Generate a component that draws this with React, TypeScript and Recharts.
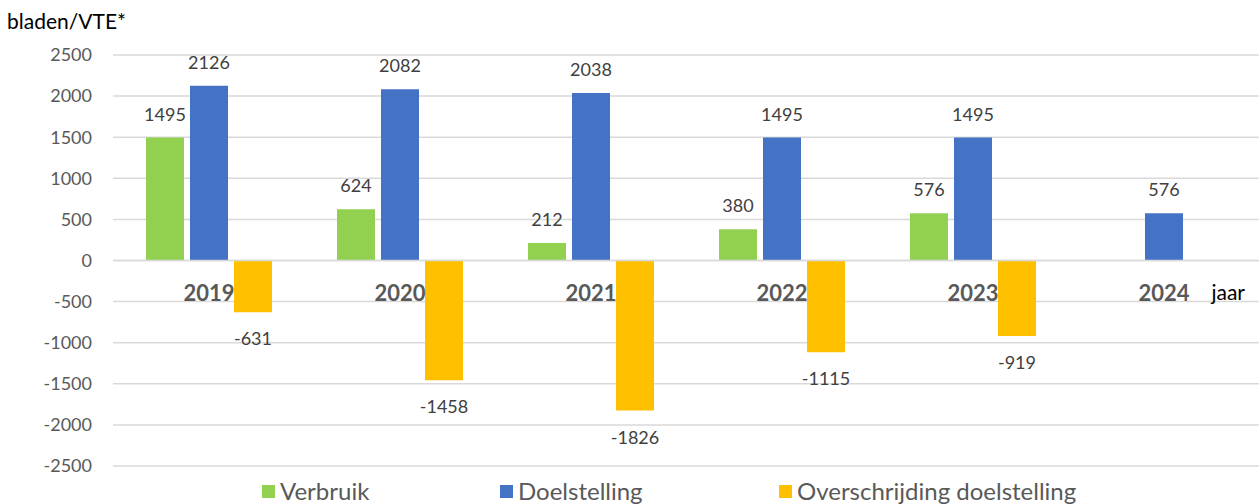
import React from "react";
import {
  BarChart,
  Bar,
  XAxis,
  YAxis,
  CartesianGrid,
  Legend,
  LabelList,
  ReferenceLine,
} from "recharts";

const years = ["2019", "2020", "2021", "2022", "2023", "2024"];
const verbruik: (number | null)[] = [1495, 624, 212, 380, 576, null];
const doelstelling: (number | null)[] = [2126, 2082, 2038, 1495, 1495, 576];
const overschrijding: (number | null)[] = [-631, -1458, -1826, -1115, -919, null];
const yTicks = [-2500, -2000, -1500, -1000, -500, 0, 500, 1000, 1500, 2000, 2500];
const seriesNames = ["Verbruik", "Doelstelling", "Overschrijding doelstelling"];
const colors = ["#92D050", "#4472C4", "#FFC000"];
const yTitle = "bladen/VTE*";
const xTitle = "jaar";

const data = years.map((y, i) => ({
  year: y,
  verbruik: verbruik[i],
  doelstelling: doelstelling[i],
  overschrijding: overschrijding[i],
}));

const FONT = "Lato, 'Open Sans', sans-serif";

const valueLabel = (props: any) => {
  const { x, y, width, height, value } = props;
  if (value === null || value === undefined) return null;
  const a = Number(y);
  const b = Number(y) + Number(height);
  const top = Math.min(a, b);
  const bottom = Math.max(a, b);
  const cx = Number(x) + Number(width) / 2;
  const ty = value >= 0 ? top - 24 : bottom + 26;
  return (
    <text
      x={cx}
      y={ty}
      textAnchor="middle"
      dominantBaseline="central"
      fontFamily={FONT}
      fontSize={18}
      fill="#404040"
    >
      {value}
    </text>
  );
};

const yearLabel = (props: any) => {
  const { x, y, width, height, value } = props;
  const base = Math.max(Number(y), Number(y) + Number(height));
  const cx = Number(x) + Number(width) / 2;
  return (
    <text
      x={cx}
      y={base + 32}
      textAnchor="middle"
      dominantBaseline="central"
      fontFamily={FONT}
      fontSize={22}
      fontWeight="bold"
      fill="#595959"
    >
      {value}
    </text>
  );
};

const jaarLabel = (props: any) => {
  const vb = props.viewBox || {};
  return (
    <text
      x={vb.x + vb.width - 14}
      y={vb.y + 31}
      textAnchor="end"
      dominantBaseline="central"
      fontFamily={FONT}
      fontSize={21}
      fill="#000000"
    >
      {xTitle}
    </text>
  );
};

const titleLabel = () => {
  return (
    <text
      x={7}
      y={20}
      textAnchor="start"
      dominantBaseline="central"
      fontFamily={FONT}
      fontSize={21}
      fill="#000000"
    >
      {yTitle}
    </text>
  );
};

const itemWidths = [238, 279, 320];

const legendContent = () => (
  <div
    style={{
      height: 38,
      display: "flex",
      paddingLeft: 262,
      boxSizing: "border-box",
      paddingTop: 12,
      fontFamily: FONT,
      fontSize: 24,
      color: "#595959",
      lineHeight: "24px",
    }}
  >
    {seriesNames.map((n, i) => (
      <div
        key={n}
        style={{ width: itemWidths[i], display: "flex", alignItems: "center" }}
      >
        <span
          style={{
            display: "inline-block",
            width: 13,
            height: 13,
            background: colors[i],
            marginRight: 5,
          }}
        />
        <span>{n}</span>
      </div>
    ))}
  </div>
);

export default function App() {
  return (
    <div style={{ position: "absolute", left: 0, top: 0, background: "#fff" }}>
      <BarChart
        width={1259}
        height={504}
        data={data}
        margin={{ top: 55, right: 0, bottom: 0, left: 0 }}
        barGap={6}
        barCategoryGap={33}
      >
        <CartesianGrid vertical={false} stroke="#D9D9D9" strokeWidth={1.5} />
        <XAxis dataKey="year" hide />
        <YAxis
          width={113}
          domain={[-2500, 2500]}
          ticks={yTicks}
          interval={0}
          axisLine={false}
          tickLine={false}
          tickSize={6}
          tickMargin={15}
          tick={{ fontFamily: FONT, fontSize: 18, fill: "#595959" }}
          label={{ content: titleLabel }}
        />
        <ReferenceLine y={0} stroke="#D9D9D9" strokeWidth={1.5} label={{ content: jaarLabel }} />
        <Legend verticalAlign="bottom" height={38} content={legendContent} />
        <Bar dataKey="verbruik" name={seriesNames[0]} fill={colors[0]} isAnimationActive={false}>
          <LabelList dataKey="verbruik" content={valueLabel} />
        </Bar>
        <Bar dataKey="doelstelling" name={seriesNames[1]} fill={colors[1]} isAnimationActive={false}>
          <LabelList dataKey="doelstelling" content={valueLabel} />
          <LabelList dataKey="year" content={yearLabel} />
        </Bar>
        <Bar dataKey="overschrijding" name={seriesNames[2]} fill={colors[2]} isAnimationActive={false}>
          <LabelList dataKey="overschrijding" content={valueLabel} />
        </Bar>
      </BarChart>
    </div>
  );
}
